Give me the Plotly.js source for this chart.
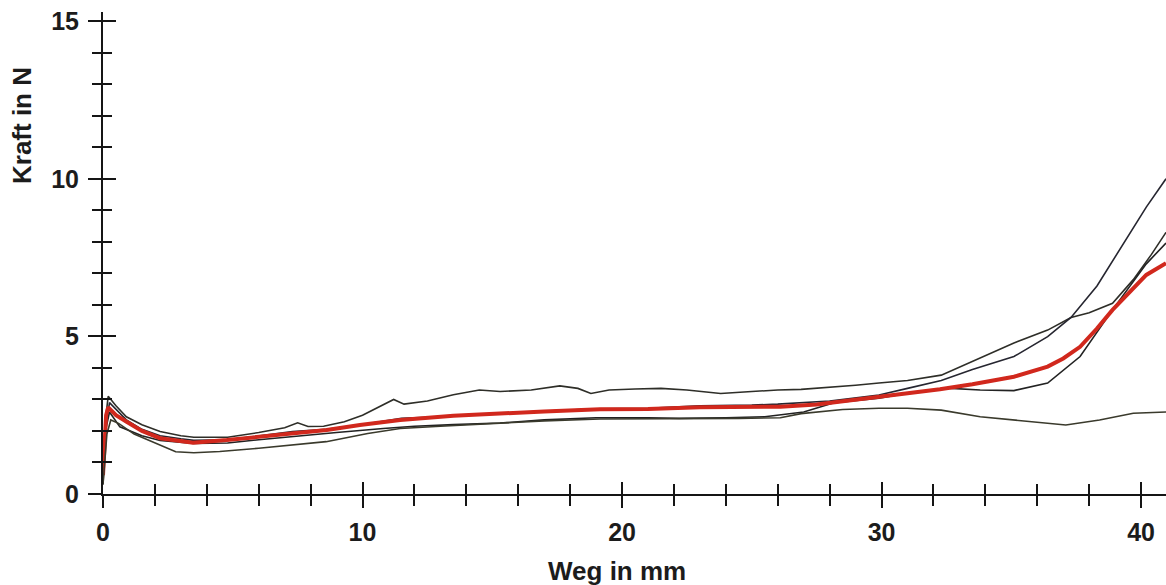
<!DOCTYPE html>
<html>
<head>
<meta charset="utf-8">
<script src="https://cdn.plot.ly/plotly-3.0.1.min.js"></script>
<style>html,body{margin:0;padding:0;background:#fff;}#chart{width:1166px;height:585px;}</style>
</head>
<body>
<div id="chart"></div>
<script>
// Curve A (upper middle curve, plateau then kink)
var xA = [0, 0.1, 0.2, 0.5, 0.9, 1.5, 2.2, 3.0, 3.5, 4.8, 6.0, 7.0, 7.5, 7.9, 8.5, 9.3, 10.0, 10.6, 11.2, 11.6, 12.5, 13.5, 14.5, 15.3, 16.5, 17.6, 18.3, 18.8, 19.5, 20.5, 21.5, 22.5, 23.8, 25.0, 26.0, 26.9, 28.0, 29.0, 29.9, 31.0, 32.3, 33.5, 35.1, 36.4, 37.3, 38.0, 38.9, 39.7, 40.4, 40.96];
var yA = [0.4, 2.4, 3.1, 2.8, 2.45, 2.2, 1.98, 1.85, 1.8, 1.8, 1.95, 2.1, 2.26, 2.14, 2.15, 2.29, 2.5, 2.75, 3.0, 2.85, 2.95, 3.15, 3.3, 3.25, 3.3, 3.43, 3.35, 3.19, 3.3, 3.33, 3.35, 3.3, 3.19, 3.25, 3.3, 3.32, 3.38, 3.45, 3.52, 3.6, 3.77, 4.2, 4.79, 5.2, 5.6, 5.75, 6.05, 6.8, 7.6, 8.3];
// Curve B (steepest at the end)
var xB = [0, 0.12, 0.25, 0.6, 0.9, 1.5, 2.2, 3.0, 3.5, 4.8, 6.0, 7.3, 8.6, 10.0, 11.5, 13, 15, 17, 19, 21, 23, 25, 26, 28, 29.9, 31, 32.3, 33.5, 35.1, 36.4, 37.3, 38.3, 38.9, 39.6, 40.2, 40.96];
var yB = [0.3, 2.2, 2.9, 2.6, 2.35, 2.05, 1.85, 1.75, 1.7, 1.72, 1.85, 1.98, 2.05, 2.2, 2.4, 2.45, 2.55, 2.62, 2.7, 2.72, 2.8, 2.82, 2.85, 2.95, 3.14, 3.35, 3.6, 3.95, 4.36, 4.99, 5.6, 6.6, 7.4, 8.3, 9.1, 10.0];
// Curve C (flat middle, late rise)
var xC = [0, 0.12, 0.25, 0.65, 1.5, 2.2, 3.5, 4.8, 6, 7.6, 9, 10.8, 12, 13.5, 15.3, 17, 19, 21, 22.2, 24, 25.5, 27, 28.2, 29.9, 31, 32.5, 33.8, 35.1, 36.4, 37.65, 38.9, 40.2, 40.96];
var yC = [0.5, 2.1, 2.6, 2.13, 1.85, 1.7, 1.6, 1.62, 1.72, 1.85, 1.95, 2.08, 2.15, 2.2, 2.25, 2.35, 2.42, 2.42, 2.4, 2.42, 2.45, 2.6, 2.9, 3.04, 3.2, 3.36, 3.3, 3.28, 3.52, 4.36, 5.84, 7.3, 7.96];
// Curve E (lowest at start, stays low at the end)
var xE = [0, 0.15, 0.3, 0.6, 1.2, 2.2, 2.8, 3.5, 4.5, 6, 7.3, 8.6, 10.2, 11.45, 13, 15.3, 17, 19.15, 21, 23, 24.5, 26.1, 26.9, 28.5, 29.9, 31, 32.3, 33.8, 35.8, 37.1, 38.4, 39.7, 40.96];
var yE = [0.3, 1.9, 2.35, 2.24, 1.9, 1.55, 1.34, 1.31, 1.35, 1.45, 1.55, 1.66, 1.92, 2.08, 2.15, 2.25, 2.32, 2.38, 2.38, 2.4, 2.4, 2.42, 2.55, 2.68, 2.72, 2.72, 2.66, 2.45, 2.29, 2.19, 2.35, 2.56, 2.6];
// Mean curve (red)
var xM = [0, 0.05, 0.12, 0.2, 0.5, 0.91, 1.5, 2.2, 3.47, 4.77, 6.05, 7.33, 8.62, 9.9, 11.45, 13.5, 15.3, 17, 19.15, 21, 23, 24.5, 26.1, 27.5, 28.4, 29.9, 31, 32.25, 33.5, 35.1, 36.4, 37.0, 37.65, 38.3, 38.9, 39.6, 40.2, 40.96];
var yM = [0.6, 1.5, 2.5, 2.75, 2.5, 2.29, 2.0, 1.77, 1.63, 1.71, 1.82, 1.95, 2.03, 2.19, 2.35, 2.48, 2.56, 2.62, 2.69, 2.7, 2.75, 2.76, 2.77, 2.84, 2.93, 3.09, 3.2, 3.32, 3.48, 3.72, 4.04, 4.3, 4.67, 5.25, 5.84, 6.45, 6.95, 7.32];

var xTitle = 'Weg in mm';
var yTitle = 'Kraft in N';

var FONT = 'Liberation Sans, Arial, sans-serif';
var INK = '#151515';

function thin(x, y, c, xa, ya) {
  return {x: x, y: y, type: 'scatter', mode: 'lines', line: {color: c, width: 1.6},
          hoverinfo: 'skip', showlegend: false, xaxis: xa || 'x', yaxis: ya || 'y'};
}
var traces = [
  thin(xA, yA, '#2e2e28'),
  thin(xB, yB, '#262630'),
  thin(xC, yC, '#222222'),
  thin(xE, yE, '#3a3a2c', 'x2', 'y2'),
  {x: xM, y: yM, type: 'scatter', mode: 'lines', line: {color: '#d1281d', width: 4}, hoverinfo: 'skip', showlegend: false}
];

var xr = [0, 40.96], yr = [0, 15.29];
var common = {showgrid: false, zeroline: false, fixedrange: true};
var tfont = {family: FONT, size: 25, color: '#1c1c1c', weight: 'bold'};
var ttl = {family: FONT, size: 26, color: '#1c1c1c', weight: 'bold'};
var layout = {
  width: 1166, height: 585,
  margin: {l: 103, r: 0, t: 12, b: 91, pad: 0},
  paper_bgcolor: '#fff', plot_bgcolor: 'rgba(0,0,0,0)',
  showlegend: false,
  font: {family: FONT, size: 25, color: INK},
  xaxis: Object.assign({}, common, {
    range: xr, showline: true, linecolor: INK, linewidth: 2,
    ticks: 'outside', ticklen: 12, tickwidth: 2, tickcolor: INK,
    tick0: 0, dtick: 10, tickfont: tfont, ticklabelstandoff: 3,
    minor: {ticks: 'outside', ticklen: 10, tickwidth: 2, tickcolor: INK, dtick: 2, showgrid: false},
    anchor: 'y'
  }),
  xaxis2: Object.assign({}, common, {
    range: xr, overlaying: 'x', anchor: 'y2', side: 'bottom', showline: false,
    ticks: 'inside', ticklen: 12, tickwidth: 2, tickcolor: INK, showticklabels: false,
    tick0: 0, dtick: 10,
    minor: {ticks: 'inside', ticklen: 10, tickwidth: 2, tickcolor: INK, dtick: 2, showgrid: false}
  }),
  yaxis: Object.assign({}, common, {
    range: yr, showline: true, linecolor: INK, linewidth: 2,
    ticks: 'outside', ticklen: 13, tickwidth: 2, tickcolor: INK,
    tick0: 0, dtick: 5, tickfont: tfont, ticklabelstandoff: 4,
    minor: {ticks: 'outside', ticklen: 9, tickwidth: 2, tickcolor: INK, dtick: 1, showgrid: false},
    anchor: 'x'
  }),
  yaxis2: Object.assign({}, common, {
    range: yr, overlaying: 'y', anchor: 'x2', side: 'left', showline: false,
    ticks: 'inside', ticklen: 13, tickwidth: 2, tickcolor: INK, showticklabels: false,
    tick0: 0, dtick: 5,
    minor: {ticks: 'inside', ticklen: 9, tickwidth: 2, tickcolor: INK, dtick: 1, showgrid: false}
  }),
  annotations: [
    {text: xTitle, xref: 'paper', yref: 'paper', x: (617 - 103) / 1063, y: (585 - 571 - 91) / 482,
     xanchor: 'center', yanchor: 'middle', showarrow: false, font: ttl},
    {text: yTitle, xref: 'paper', yref: 'paper', x: (22 - 103) / 1063, y: (585 - 126 - 91) / 482,
     xanchor: 'center', yanchor: 'middle', textangle: -90, showarrow: false, font: ttl}
  ]
};

Plotly.newPlot('chart', traces, layout, {staticPlot: true, displayModeBar: false});
</script>
</body>
</html>
